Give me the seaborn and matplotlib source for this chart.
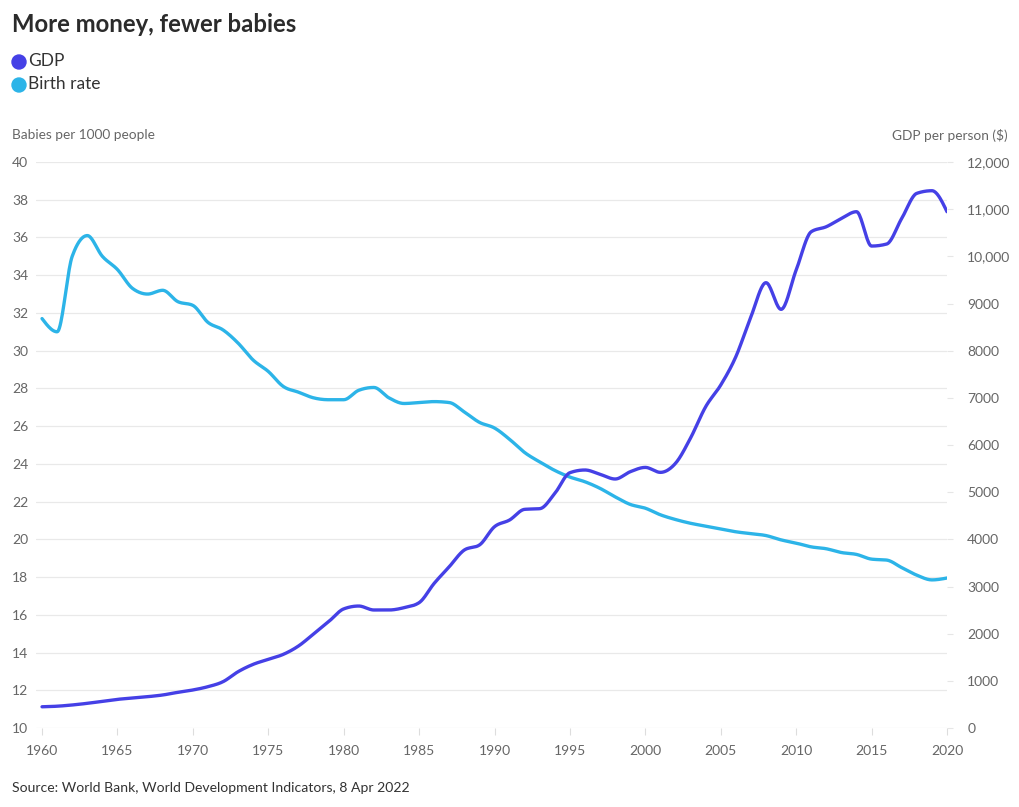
import numpy as np
import pandas as pd
import matplotlib
matplotlib.use("Agg")
import matplotlib.pyplot as plt
from matplotlib.patches import Ellipse
import seaborn as sns

# ---------------- data ----------------
years = list(range(1960, 2021))
birth_rate = [31.7, 31.0, 35.0, 36.1, 35.0, 34.3, 33.3, 33.0, 33.2, 32.6,
              32.4, 31.5, 31.1, 30.4, 29.5, 28.9, 28.1, 27.8, 27.5, 27.4,
              27.4, 27.9, 28.05, 27.5, 27.2, 27.25, 27.3, 27.25, 26.75, 26.2,
              25.9, 25.3, 24.6, 24.1, 23.65, 23.3, 23.05, 22.7, 22.25, 21.85,
              21.65, 21.3, 21.05, 20.85, 20.7, 20.55, 20.4, 20.3, 20.2, 19.97,
              19.8, 19.6, 19.5, 19.3, 19.2, 18.95, 18.9, 18.5, 18.1, 17.85,
              17.95]
gdp = [450, 462, 488, 523, 565, 607, 636, 664, 700, 756,
       806, 876, 982, 1194, 1350, 1456, 1562, 1738, 1993, 2254,
       2525, 2586, 2502, 2502, 2551, 2657, 3067, 3420, 3774, 3880,
       4268, 4410, 4636, 4650, 4975, 5413, 5470, 5378, 5279, 5434,
       5525, 5420, 5612, 6150, 6812, 7272, 7872, 8720, 9441, 8876,
       9710, 10522, 10628, 10805, 10946, 10218, 10261, 10805, 11336, 11391,
       10946]
left_ticks = list(range(10, 41, 2))
right_ticks = list(range(0, 12001, 1000))
right_labels = ["0", "1000", "2000", "3000", "4000", "5000", "6000", "7000",
                "8000", "9000", "10,000", "11,000", "12,000"]
x_ticks = list(range(1960, 2021, 5))

GDP_COLOR = "#4540e6"
BR_COLOR = "#2cb4e8"
TXT = "#666666"


def monotone_x(x, y, n=20):
    """d3.curveMonotoneX style rendering of a polyline."""
    x = np.asarray(x, float)
    y = np.asarray(y, float)
    h = np.diff(x)
    s = np.diff(y) / h
    t = np.zeros_like(y)
    for i in range(1, len(y) - 1):
        h0, h1 = h[i - 1], h[i]
        s0, s1 = s[i - 1], s[i]
        p = (s0 * h1 + s1 * h0) / (h0 + h1)
        t[i] = (np.sign(s0) + np.sign(s1)) * min(abs(s0), abs(s1), 0.5 * abs(p))
    t[0] = (3 * s[0] - t[1]) / 2
    t[-1] = (3 * s[-1] - t[-2]) / 2
    xs, ys = [], []
    for i in range(len(x) - 1):
        u = np.linspace(0, 1, n, endpoint=False)
        h00 = 2 * u**3 - 3 * u**2 + 1
        h10 = u**3 - 2 * u**2 + u
        h01 = -2 * u**3 + 3 * u**2
        h11 = u**3 - u**2
        xs.append(x[i] + u * h[i])
        ys.append(h00 * y[i] + h10 * h[i] * t[i] + h01 * y[i + 1] + h11 * h[i] * t[i + 1])
    xs.append([x[-1]])
    ys.append([y[-1]])
    return np.concatenate(xs), np.concatenate(ys)


sns.set_theme(style="white")
plt.rcParams["font.family"] = ["Lato", "DejaVu Sans"]

W, H = 1020, 807
fig = plt.figure(figsize=(W / 100, H / 100), dpi=100)
ax_l, ax_r, ax_t, ax_b = 36, 947, 162, 728
ax = fig.add_axes([ax_l / W, 1 - ax_b / H, (ax_r - ax_l) / W, (ax_b - ax_t) / H])
ax2 = ax.twinx()

bx, by = monotone_x(years, birth_rate)
gx, gy = monotone_x(years, gdp)
df_b = pd.DataFrame({"year": bx, "value": by})
df_g = pd.DataFrame({"year": gx, "value": gy})

sns.lineplot(data=df_b, x="year", y="value", ax=ax, color=BR_COLOR,
             linewidth=2.4, sort=False, estimator=None)
sns.lineplot(data=df_g, x="year", y="value", ax=ax2, color=GDP_COLOR,
             linewidth=2.4, sort=False, estimator=None)

ax.set_xlim(1959.6, 2020)
ax.set_ylim(10, 40)
ax2.set_ylim(0, 12000)

ax.set_yticks(left_ticks)
ax.set_yticklabels([str(v) for v in left_ticks])
ax.set_xticks(x_ticks)
ax.set_xticklabels([str(v) for v in x_ticks])
ax2.set_yticks(right_ticks)
ax2.set_yticklabels(right_labels)

ax.grid(axis="y", color="#e9e9e9", linewidth=0.9)
ax.grid(axis="x", visible=False)
ax2.grid(False)
for a in (ax, ax2):
    for sp in a.spines.values():
        sp.set_visible(False)
    a.set_xlabel("")
    a.set_ylabel("")

ax.tick_params(axis="y", length=0, pad=17.3, labelsize=10, labelcolor=TXT)
ax.tick_params(axis="x", length=5, width=0.8, color="#dddddd", pad=7,
               labelsize=10, labelcolor=TXT, bottom=True)
ax2.tick_params(axis="y", length=4.5, width=0.8, color="#e6e6e6", pad=10,
                labelsize=10, labelcolor=TXT, right=True, direction="out")
for lab in ax.get_yticklabels():
    lab.set_horizontalalignment("left")

# texts
fig.text(12 / W, 1 - 25 / H, "More money, fewer babies", fontsize=17.2,
         fontweight="bold", color="#2b2b2b", va="center", ha="left")
fig.text(28 / W, 1 - 61 / H, "GDP", fontsize=12.5, color="#333333",
         va="center", ha="left")
fig.text(28 / W, 1 - 84 / H, "Birth rate", fontsize=12.5, color="#333333",
         va="center", ha="left")
fig.patches.append(Ellipse((19 / W, 1 - 62 / H), 14 / W, 14 / H,
                           transform=fig.transFigure, color=GDP_COLOR))
fig.patches.append(Ellipse((19 / W, 1 - 85 / H), 14 / W, 14 / H,
                           transform=fig.transFigure, color=BR_COLOR))
fig.text(12 / W, 1 - 135 / H, "Babies per 1000 people", fontsize=9.8,
         color=TXT, va="center", ha="left")
fig.text(1008 / W, 1 - 135 / H, "GDP per person ($)", fontsize=9.8,
         color=TXT, va="center", ha="right")
fig.text(12 / W, 1 - 788 / H,
         "Source: World Bank, World Development Indicators, 8 Apr 2022",
         fontsize=10.05, color="#333333", va="center", ha="left")

fig.savefig("out.png", dpi=100)
